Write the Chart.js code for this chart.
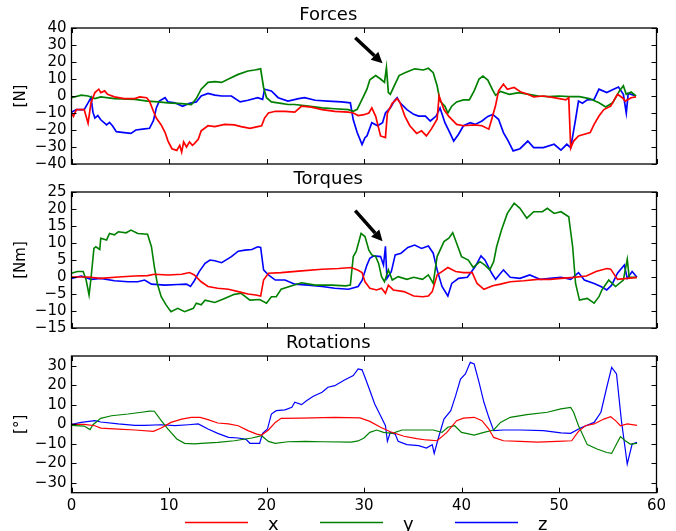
<!DOCTYPE html>
<html>
<head>
<meta charset="utf-8">
<script src="https://cdn.jsdelivr.net/npm/chart.js@4.4.1/dist/chart.umd.min.js"></script>
<style>
  body { margin: 0; background: #fff; width: 676px; height: 531px; overflow: hidden; position: relative; }
  canvas { position: absolute; left: 0; }
</style>
</head>
<body>
<canvas id="forces" width="676" height="180" style="top:0"></canvas>
<canvas id="torques" width="676" height="180" style="top:164px"></canvas>
<canvas id="rotations" width="676" height="203" style="top:328px"></canvas>
<script>
// time axis + tick labels
const timeTicks = [0, 10, 20, 30, 40, 50, 60];
const forceTicks = [-40, -30, -20, -10, 0, 10, 20, 30, 40];
const torqueTicks = [-15, -10, -5, 0, 5, 10, 15, 20, 25];
const rotTicks = [-30, -20, -10, 0, 10, 20, 30];

// [time s, value]
const forceX = [[0,-10],[0.2,-12],[0.5,-8],[1.3,-8],[1.7,-16],[2.0,-4],[2.4,2],[2.8,4],[3.0,2],[3.4,3],[3.7,1],[4.4,-0.5],[5.4,-1.5],[6.5,-1.5],[7.0,-0.5],[7.7,-1],[8.0,-3],[8.4,-9],[8.7,-13],[9.2,-17],[9.6,-21.5],[9.9,-26.5],[10.3,-31],[10.8,-32],[11.1,-29],[11.3,-33],[11.5,-27],[11.8,-30],[12.1,-27],[12.4,-29],[12.6,-28],[13.0,-25.5],[13.3,-20.5],[14.0,-17.5],[14.7,-18],[15.7,-16.7],[16.7,-17],[17.4,-18],[18.3,-19],[19.1,-18],[19.5,-17.5],[19.8,-13],[20.2,-10],[20.9,-9],[21.9,-9],[22.9,-9.5],[23.6,-6],[24.6,-6.5],[25.7,-8],[27.0,-9],[28.4,-9.5],[28.9,-10],[29.4,-11.5],[30.0,-11],[30.5,-10],[30.8,-7],[31.2,-12],[31.7,-23.5],[32.2,-24.5],[32.4,-10],[32.9,-4.3],[33.4,-1.5],[33.7,-4],[34.2,-12],[34.7,-17.5],[35.4,-22],[35.9,-20.5],[36.4,-23.5],[36.9,-19.5],[37.5,-13.7],[37.7,0],[38.2,-8],[38.7,-12],[39.5,-16.7],[40.2,-17.5],[41.3,-17],[42.1,-17.5],[42.8,-19.5],[43.1,-13.7],[43.5,-5.5],[43.8,3],[44.3,7],[44.7,4],[45.4,5],[46.1,2.3],[46.8,1],[47.4,-0.5],[48.4,0],[49.5,-1],[50.7,-2.3],[51.0,-1],[51.2,-30.5],[51.5,-26.5],[52.0,-23.5],[52.6,-22.5],[53.2,-21.5],[53.6,-16.7],[54.1,-11.8],[54.6,-8],[55.3,-6],[56.0,1],[56.5,-1],[56.8,-3],[57.4,-1],[57.9,-0.5]];
const forceY = [[0,-1],[1.0,0.5],[1.7,0],[2.4,-1.5],[3.0,-0.5],[4.4,-1.5],[6.5,-2],[7.8,-3],[8.9,-3.5],[9.9,-4],[11.3,-4.5],[12.3,-5],[12.8,-1.5],[13.3,4],[14.0,8],[14.7,8.5],[15.4,8],[16.1,10],[17.1,12.7],[18.1,14.7],[18.8,15.3],[19.4,16],[19.7,5],[20.0,-1],[20.5,-3.5],[21.5,-4.3],[22.2,-5],[22.9,-5],[24.3,-6],[25.7,-7],[27.0,-7.5],[28.4,-8],[28.9,-9],[29.3,-7.8],[29.8,-2],[30.3,4],[30.6,9.5],[31.2,12],[31.7,10],[32.1,8],[32.3,16.7],[32.5,2],[32.7,1],[33.1,6],[33.6,12],[34.2,13.7],[35.2,16],[36.1,15.3],[36.6,16.3],[37.1,13.7],[37.5,6],[37.8,-3],[38.3,-6],[38.6,-10],[39.0,-6],[39.5,-3.5],[40.2,-2.3],[40.8,-2.3],[41.3,3],[41.8,10],[42.2,11.7],[42.7,9.4],[43.2,3.5],[43.5,0.4],[44.0,2.7],[44.9,1],[45.9,2],[46.9,1],[47.9,0],[48.9,-0.4],[50.0,0],[51.0,-0.4],[52.1,-0.4],[53.1,-1.5],[54.1,-4],[54.8,-6.5],[55.5,-4],[56.2,3],[56.6,6],[56.9,1],[57.4,2.3],[57.9,0]];
const forceZ = [[0,-9.5],[0.5,-8],[1.3,-8],[1.7,-4],[2.0,-1],[2.2,-9.5],[2.4,-13],[2.7,-11.5],[3.0,-14],[3.6,-17],[3.9,-15.5],[4.2,-17.5],[4.6,-21],[5.4,-21.5],[6.1,-22],[6.6,-20],[7.3,-19.5],[8.0,-19],[8.4,-14.5],[8.7,-7],[9.0,-3],[9.6,-1],[9.9,-3.5],[10.6,-4],[11.4,-6],[12.1,-4.3],[12.8,-3.5],[13.3,0],[14.0,1.5],[14.7,0.5],[15.4,0],[16.4,0],[17.3,-3.5],[18.1,-2.5],[19.1,-1],[19.6,-2],[19.8,4],[20.5,3],[21.2,-1],[22.2,-3],[23.3,-1.5],[23.9,-1],[25.0,-2.5],[26.3,-3],[27.7,-3.5],[28.6,-4],[28.9,-14],[29.3,-21.5],[29.8,-28.5],[30.1,-24.5],[30.3,-23.5],[30.8,-15.7],[31.4,-17.5],[31.9,-15.7],[32.2,-10],[32.7,-7],[33.1,-3],[33.4,-1],[33.7,-4],[34.4,-8],[35.1,-10.8],[35.6,-11.8],[36.3,-11.8],[36.8,-14.7],[37.4,-11.8],[37.8,-7],[38.3,-15.7],[38.8,-21.5],[39.2,-26.5],[39.7,-22.5],[40.2,-17.5],[40.9,-15.7],[41.4,-16.7],[42.1,-14.7],[42.7,-12],[43.2,-10.8],[43.8,-13.7],[44.3,-21.5],[44.8,-26.5],[45.3,-32.3],[46.0,-31],[46.8,-26.5],[47.4,-30.4],[48.4,-30.4],[49.5,-28.4],[50.2,-31.8],[50.8,-28.4],[51.2,-30.4],[51.7,-13.7],[52.0,-3],[52.4,-4.3],[52.9,-2.3],[53.6,-2],[54.1,4],[54.9,2],[55.6,4],[56.1,5.3],[56.6,1],[56.9,-10],[57.1,1.5],[57.9,0]];

const torqueX = [[0,0],[1.7,0],[3.0,-0.4],[4.8,0],[6.5,0.3],[7.8,0.4],[8.5,0.8],[9.9,0.6],[11.3,0.8],[12.1,1.3],[12.6,0.6],[13.3,-1.4],[14.0,-2.8],[15.0,-3.3],[16.1,-3.6],[17.1,-4.3],[18.1,-5],[18.9,-5.3],[19.4,-5.6],[19.7,-0.9],[20.2,1.1],[21.5,1.3],[23.6,1.8],[25.7,2.3],[27.4,2.5],[28.7,2.8],[29.4,2],[29.8,1.3],[30.1,-1.4],[30.6,-3.3],[31.3,-3.8],[31.8,-3.3],[32.2,-4.8],[32.5,-2.4],[33.0,-3.8],[34.1,-4.3],[35.1,-5.6],[36.0,-5.8],[36.6,-5.6],[37.0,-4.3],[37.5,0.6],[38.6,2.8],[39.4,1.6],[40.2,1.3],[41.1,1.3],[41.6,-1.9],[42.3,-3.6],[43.2,-2.6],[44.0,-2.1],[45.0,-1.4],[46.4,-1.1],[47.8,-0.7],[49.1,-0.7],[50.2,-0.4],[51.5,-0.1],[52.8,0.3],[53.8,1.6],[54.9,2.5],[55.3,2.3],[56.0,-0.7],[57.0,-0.4],[58.0,-0.1]];
const torqueY = [[0,1.1],[0.6,1.6],[1.2,1.6],[1.5,-0.9],[1.8,-5.3],[2.0,-0.4],[2.3,8.4],[2.5,8.9],[2.9,8.1],[3.0,11.4],[3.6,10.9],[3.9,12.8],[4.4,12.4],[4.8,13.3],[5.6,13],[6.1,13.8],[6.8,12.8],[7.8,12.6],[8.2,8.9],[8.5,3],[8.8,-1.9],[9.2,-5.8],[9.7,-8.2],[10.2,-10.2],[10.9,-9.2],[11.6,-10.2],[12.5,-9.2],[12.8,-7.7],[13.3,-8.2],[13.7,-6.8],[14.7,-7.5],[15.7,-6.3],[16.7,-5.1],[17.4,-4.8],[18.3,-6.8],[19.3,-6.6],[20.0,-7.7],[20.5,-5.8],[21.0,-5.8],[21.5,-3.6],[22.6,-2.6],[23.6,-1.7],[25.0,-2.4],[26.7,-2.4],[28.1,-2.6],[28.6,-2.4],[28.9,6],[29.2,7.5],[29.7,12.8],[30.1,11.9],[30.5,7.9],[30.8,6.5],[31.2,6],[31.5,4],[31.8,0.1],[32.1,-1.4],[32.5,2.1],[32.9,-0.9],[33.5,0.1],[34.4,-0.7],[35.1,-0.1],[36.0,-0.7],[36.6,0.6],[37.1,-1.9],[37.5,6],[38.2,10.4],[38.7,11.4],[39.1,13],[39.5,9.9],[40.0,6],[40.7,5],[41.2,2.8],[41.9,4.5],[42.4,3.5],[42.9,2.1],[43.3,4.5],[43.6,8.9],[44.1,13.8],[44.7,18.7],[45.4,21.7],[46.0,20.2],[46.7,17.3],[47.4,19.2],[48.3,19.2],[48.8,20.2],[49.5,18.7],[50.2,19.2],[51.0,17.7],[51.4,8.9],[51.7,-1.9],[52.1,-6.8],[52.9,-6.3],[53.6,-7.7],[54.1,-5.8],[54.4,-3.8],[55.1,-0.9],[55.8,-2.8],[56.6,-0.9],[57.0,5.2],[57.2,-0.1],[58.0,-0.1]];
const torqueZ = [[0,-0.4],[1.0,0.3],[2.0,-0.7],[3.0,-0.4],[4.4,-1.1],[5.8,-1.4],[6.8,-1.4],[7.5,-0.9],[8.2,-2.1],[9.6,-2.4],[10.9,-2.2],[11.8,-2.1],[12.2,-2.8],[12.6,-1.1],[13.1,1.6],[13.7,4],[14.2,5],[14.7,4.8],[15.4,4.2],[16.4,6],[17.1,7.6],[17.8,7.9],[18.5,8.1],[19.1,8.9],[19.4,8.7],[19.7,2.1],[20.2,0.6],[20.9,-0.9],[21.9,-0.9],[22.9,-2.1],[24.3,-2.4],[25.7,-2.8],[27.0,-3.3],[28.4,-3.6],[29.4,-2.8],[29.8,-1],[30.3,3.5],[30.6,5.5],[31.0,6.2],[31.7,6],[32.0,3.5],[32.2,9],[32.35,-0.4],[32.8,1.6],[33.2,6.5],[33.8,7],[34.5,8.7],[35.2,9.4],[35.9,8.4],[36.6,9.1],[37.1,7],[37.5,2.1],[38.0,-2.8],[38.6,-5.6],[39.0,-1.9],[39.7,-0.4],[40.6,-0.1],[41.4,3],[42.0,6.2],[42.4,5],[43.1,1.1],[43.5,-0.7],[44.3,2.1],[45.0,-0.1],[46.0,-0.4],[47.0,0.6],[48.1,-0.7],[49.1,-0.4],[50.2,-0.1],[51.2,-0.7],[52.0,1.3],[52.6,-0.9],[53.6,-1.9],[54.3,-2.8],[54.9,-3.8],[55.4,-2.4],[56.0,1.1],[56.7,3.5],[57.0,-0.4],[57.5,1.6],[58.0,-0.1]];

const rotX = [[0,0],[1.3,0],[2.4,-0.7],[3.0,-1.9],[4.8,-2.4],[6.5,-2.9],[8.4,-3.6],[9.2,-1.9],[10.2,1],[11.3,2.7],[12.3,3.6],[13.2,3.6],[14.0,2.4],[15.0,0.7],[16.1,0.2],[17.1,-0.7],[18.1,-3.2],[19.0,-5],[19.5,-5.5],[20.2,-2.9],[20.9,1],[21.5,3.1],[23.6,3.2],[27.0,3.6],[29.6,3.3],[30.6,1.5],[31.7,-1.5],[32.7,-3.8],[34.1,-6.1],[35.4,-7.3],[36.4,-8],[37.5,-8.4],[38.5,-4.1],[39.5,1.9],[40.2,3.2],[41.3,3.6],[42.1,1.9],[42.8,-2.4],[43.3,-6.7],[44.3,-8.4],[46.0,-8.7],[47.8,-9.1],[49.8,-8.7],[51.3,-8.4],[52.0,-3.6],[52.7,-0.7],[53.6,0.2],[54.6,2.7],[55.3,3.9],[55.8,1.9],[56.3,-0.7],[57.0,0.2],[58.0,-0.5]];
const rotY = [[0,-0.5],[1.3,-0.9],[1.9,-2.7],[2.2,-0.2],[3.0,3.1],[4.1,4.4],[5.8,5.3],[7.2,6.2],[8.0,6.8],[8.5,6.7],[9.2,1.9],[9.9,-2.4],[10.8,-7.5],[11.6,-9.7],[12.6,-10],[13.3,-9.7],[15.0,-9.2],[16.7,-8.4],[18.5,-7],[19.5,-5.8],[20.2,-8.7],[20.9,-9.7],[22.2,-8.9],[24.0,-8.7],[25.7,-8.9],[28.7,-9.1],[29.4,-8.5],[30.0,-7],[30.6,-4.1],[31.3,-2.9],[32.0,-4.1],[32.9,-4.6],[33.9,-2.9],[35.8,-2.9],[37.1,-2.9],[38.0,-4.1],[38.6,-1.5],[39.3,-0.7],[40.0,-4.1],[41.3,-5.5],[42.3,-4.1],[43.3,-2.9],[44.0,1],[45.0,3.6],[46.7,5],[48.8,6.2],[50.2,7.9],[51.2,8.7],[51.5,6.2],[52.0,-0.7],[52.9,-10.4],[53.9,-12.6],[54.9,-14.4],[55.4,-14.9],[55.9,-10.1],[56.3,-6.3],[56.8,-8.4],[57.3,-10.1],[58.0,-9.7]];
const rotZ = [[0,0],[1.0,1],[2.4,1.9],[3.0,1.2],[4.8,0.2],[6.5,-0.5],[7.5,-0.5],[9.2,-0.2],[10.6,-0.7],[12.0,-0.2],[13.0,0.2],[14.0,-2.4],[15.0,-4.6],[16.1,-6.7],[17.1,-7],[17.9,-7.7],[18.3,-9.7],[18.8,-9.7],[19.3,-9.7],[19.6,-4.6],[20.1,-2.4],[20.5,5.3],[21.0,7],[21.9,7.4],[22.6,8.7],[22.9,11.3],[23.6,10.1],[24.1,12.1],[24.8,14.4],[25.7,16.4],[26.3,19],[27.0,19.8],[28.0,22.7],[28.9,25],[29.4,28.4],[29.8,27.9],[30.1,24.1],[30.6,17.3],[31.1,10.4],[31.7,4.4],[32.2,-0.7],[32.4,-8.7],[32.7,-4.1],[33.2,-5],[33.5,-8.7],[34.4,-10.4],[35.6,-10.9],[36.4,-12.1],[37.0,-10.4],[37.2,-14.9],[37.6,-7.5],[38.2,2.7],[38.9,7],[39.4,14.7],[39.9,23.2],[40.4,25.8],[40.9,31.8],[41.3,30.9],[41.8,21.5],[42.3,11.3],[42.8,3.6],[43.3,-3.2],[44.3,-2.9],[46.0,-2.9],[48.4,-3.2],[50.2,-4.4],[51.2,-4.6],[52.2,-1.9],[53.6,1],[54.3,6.2],[54.9,19],[55.4,29.2],[55.9,25.8],[56.4,1.9],[57.0,-20.3],[57.5,-10.1],[58.0,-9.2]];

// arrow annotations, data coords [tail, tip]
const forceArrow = [[29.1, 34.3], [31.9, 19.2]];
const torqueArrow = [[29.1, 19.5], [31.9, 10.5]];

Chart.defaults.font.family = "'DejaVu Sans', sans-serif";
Chart.defaults.color = '#000';

const colors = { x: '#ff0000', y: '#008000', z: '#0000ff' };

// box + inward ticks, plus optional arrow / legend
const decor = {
  id: 'decor',
  afterDatasetsDraw(chart, args, opts) {
    const { ctx, chartArea: a, scales: { x, y } } = chart;
    ctx.save();
    ctx.strokeStyle = '#000';
    ctx.lineWidth = 1;
    ctx.beginPath();
    y.ticks.forEach(t => {
      const p = Math.round(y.getPixelForValue(t.value)) + 0.5;
      ctx.moveTo(a.left, p); ctx.lineTo(a.left + 5, p);
      ctx.moveTo(a.right, p); ctx.lineTo(a.right - 5, p);
    });
    timeTicks.forEach(v => {
      const p = Math.round(x.getPixelForValue(v)) + 0.5;
      ctx.moveTo(p, a.top); ctx.lineTo(p, a.top + 5);
      ctx.moveTo(p, a.bottom); ctx.lineTo(p, a.bottom - 5);
    });
    ctx.stroke();
    ctx.lineWidth = 1.3;
    ctx.strokeRect(a.left, a.top, a.right - a.left, a.bottom - a.top);

    if (opts.arrow) {
      const [t0, t1] = opts.arrow;
      const x0 = x.getPixelForValue(t0[0]), y0 = y.getPixelForValue(t0[1]);
      const x1 = x.getPixelForValue(t1[0]), y1 = y.getPixelForValue(t1[1]);
      const ang = Math.atan2(y1 - y0, x1 - x0);
      const bx = x1 - 11 * Math.cos(ang), by = y1 - 11 * Math.sin(ang);
      ctx.fillStyle = '#000';
      ctx.lineWidth = 3.5;
      ctx.beginPath(); ctx.moveTo(x0, y0); ctx.lineTo(bx, by); ctx.stroke();
      ctx.beginPath();
      ctx.moveTo(x1, y1);
      ctx.lineTo(bx + 5.5 * Math.sin(ang), by - 5.5 * Math.cos(ang));
      ctx.lineTo(bx - 5.5 * Math.sin(ang), by + 5.5 * Math.cos(ang));
      ctx.closePath(); ctx.fill();
    }

    if (opts.legend) {
      ctx.font = "18px 'DejaVu Sans'";
      ctx.textBaseline = 'alphabetic';
      chart.data.datasets.forEach((ds, i) => {
        const lx = 185 + i * 135;
        ctx.strokeStyle = ds.borderColor;
        ctx.lineWidth = 1.3;
        ctx.beginPath(); ctx.moveTo(lx, 194.5); ctx.lineTo(lx + 63, 194.5); ctx.stroke();
        ctx.fillStyle = '#000';
        ctx.fillText(ds.label, lx + 83, 202);
      });
    }
    ctx.restore();
  }
};

function series(label, pts, w) {
  return {
    label,
    data: pts.map(([x, y]) => ({ x, y })),
    borderColor: colors[label],
    borderWidth: w,
    pointRadius: 0,
    tension: 0,
    fill: false
  };
}

function makeChart(id, title, unit, sets, yMin, yMax, yTicks, bottomAxis, extra) {
  return new Chart(document.getElementById(id), {
    type: 'line',
    data: { datasets: sets },
    options: {
      responsive: false,
      animation: false,
      layout: { padding: { left: 0, right: 19.5, top: 0, bottom: bottomAxis ? 16.3 : 16 } },
      plugins: {
        legend: { display: false },
        tooltip: { enabled: false },
        title: {
          display: true, text: title, color: '#000',
          font: { size: 18, weight: 'normal' },
          padding: { top: 5, bottom: 1.4 }
        },
        decor: extra
      },
      scales: {
        x: {
          type: 'linear', min: 0, max: 60,
          display: bottomAxis,
          grid: { display: false, drawTicks: false },
          border: { display: false },
          afterBuildTicks: s => { s.ticks = timeTicks.map(v => ({ value: v })); },
          afterFit: s => { if (bottomAxis) s.height = 22; },
          ticks: { font: { size: 15 }, color: '#000', padding: 4, maxRotation: 0, autoSkip: false }
        },
        y: {
          min: yMin, max: yMax,
          grid: { display: false, drawTicks: false },
          border: { display: false },
          afterBuildTicks: s => { s.ticks = yTicks.map(v => ({ value: v })); },
          afterFit: s => { s.width = 71.5; },
          ticks: {
            font: { size: 15 }, color: '#000', padding: 5, autoSkip: false,
            callback: v => String(v).replace('-', '\u2212')
          },
          title: {
            display: true, text: unit, color: '#000',
            font: { size: 15 }, padding: { top: 12, bottom: 0 }
          }
        }
      }
    },
    plugins: [decor]
  });
}

makeChart('forces', 'Forces', '[N]',
  [series('x', forceX, 1.7), series('y', forceY, 1.7), series('z', forceZ, 1.7)],
  -40, 40, forceTicks, false, { arrow: forceArrow });

makeChart('torques', 'Torques', '[Nm]',
  [series('x', torqueX, 1.6), series('y', torqueY, 1.6), series('z', torqueZ, 1.6)],
  -15, 25, torqueTicks, false, { arrow: torqueArrow });

makeChart('rotations', 'Rotations', '[°]',
  [series('x', rotX, 1.2), series('y', rotY, 1.2), series('z', rotZ, 1.2)],
  -35, 35, rotTicks, true, { legend: true });
</script>
</body>
</html>
